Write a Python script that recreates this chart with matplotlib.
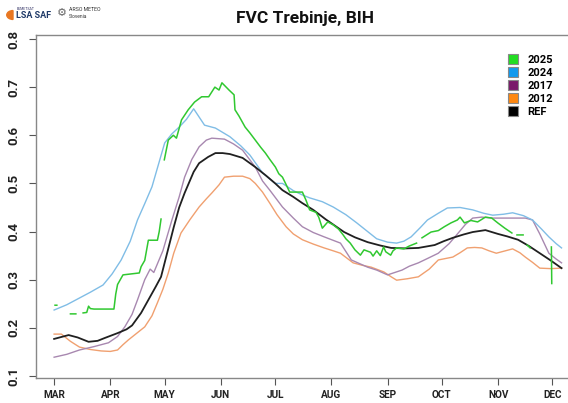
import numpy as np
import matplotlib
matplotlib.use("Agg")
import matplotlib.pyplot as plt
from matplotlib.lines import Line2D
from matplotlib.patches import Wedge

plt.rcParams['font.family'] = ['Roboto', 'DejaVu Sans']

nan = np.nan

# Month ticks (day of year) and labels
month_days = [60, 91, 121, 152, 182, 213, 244, 274, 305, 335]
month_labels = ['MAR', 'APR', 'MAY', 'JUN', 'JUL', 'AUG', 'SEP', 'OCT', 'NOV', 'DEC']

# Reference (long-term mean) FVC
ref_days = [60, 64, 68, 73, 79, 84, 88, 95, 100, 103, 108, 112, 116, 119, 122, 126, 129,
            132, 137, 140, 145, 149, 153, 157, 164, 171, 177, 182, 186, 192, 197, 203,
            210, 220, 226, 233, 240, 246, 254, 261, 270, 275, 280, 286, 291, 298, 305,
            310, 316, 322, 328, 334, 340]
ref_vals = [0.177, 0.181, 0.185, 0.180, 0.171, 0.173, 0.179, 0.189, 0.197, 0.205, 0.231,
            0.258, 0.285, 0.306, 0.350, 0.409, 0.450, 0.480, 0.524, 0.542, 0.555, 0.563,
            0.563, 0.561, 0.553, 0.534, 0.516, 0.500, 0.486, 0.472, 0.459, 0.445, 0.425,
            0.399, 0.388, 0.378, 0.371, 0.366, 0.365, 0.366, 0.372, 0.380, 0.387, 0.394,
            0.399, 0.403, 0.395, 0.390, 0.383, 0.370, 0.355, 0.340, 0.324]

# Season 2024
y2024_days = [60, 67, 74, 80, 87, 92, 97, 102, 106, 110, 114, 118, 121, 125, 129, 133,
              137, 140, 143, 149, 157, 163, 168, 175, 182, 186, 192, 197, 201, 208, 214,
              221, 227, 233, 238, 244, 249, 253, 257, 262, 266, 272, 277, 284, 291, 297,
              302, 308, 313, 319, 324, 329, 333, 337, 340]
y2024_vals = [0.237, 0.248, 0.262, 0.274, 0.289, 0.312, 0.341, 0.380, 0.424, 0.458, 0.493,
              0.545, 0.584, 0.603, 0.617, 0.633, 0.655, 0.638, 0.621, 0.615, 0.597, 0.578,
              0.559, 0.522, 0.500, 0.500, 0.485, 0.476, 0.470, 0.462, 0.451, 0.435, 0.418,
              0.400, 0.385, 0.378, 0.376, 0.380, 0.389, 0.408, 0.424, 0.438, 0.449, 0.450,
              0.445, 0.438, 0.434, 0.436, 0.439, 0.433, 0.424, 0.405, 0.389, 0.375, 0.366]

# Season 2017
y2017_days = [60, 67, 74, 82, 90, 95, 99, 103, 106, 110, 113, 115, 120, 125, 129, 132,
              136, 140, 144, 147, 154, 159, 164, 171, 175, 179, 186, 192, 197, 203, 209,
              218, 224, 233, 238, 244, 248, 252, 256, 261, 266, 272, 278, 283, 287, 291,
              296, 302, 310, 320, 324, 328, 333, 337, 340]
y2017_vals = [0.139, 0.145, 0.154, 0.161, 0.169, 0.182, 0.202, 0.228, 0.258, 0.300, 0.322,
              0.315, 0.360, 0.424, 0.472, 0.513, 0.550, 0.576, 0.590, 0.594, 0.592, 0.582,
              0.569, 0.534, 0.505, 0.486, 0.451, 0.428, 0.410, 0.398, 0.389, 0.376, 0.341,
              0.326, 0.320, 0.310, 0.315, 0.320, 0.328, 0.335, 0.344, 0.355, 0.375, 0.397,
              0.415, 0.428, 0.430, 0.428, 0.428, 0.428, 0.424, 0.395, 0.355, 0.343, 0.335]

# Season 2012
y2012_days = [60, 64, 69, 74, 80, 86, 91, 95, 98, 101, 106, 110, 114, 117, 120, 123,
              126, 130, 135, 140, 144, 147, 151, 154, 159, 164, 168, 171, 175, 179, 183,
              188, 192, 197, 203, 209, 214, 218, 225, 230, 235, 242, 246, 249, 255, 261,
              267, 272, 276, 280, 284, 288, 292, 296, 300, 304, 309, 313, 317, 320, 324,
              328, 334, 340]
y2012_vals = [0.187, 0.187, 0.172, 0.160, 0.155, 0.152, 0.151, 0.154, 0.165, 0.175, 0.190,
              0.202, 0.225, 0.252, 0.280, 0.314, 0.355, 0.397, 0.425, 0.451, 0.468, 0.480,
              0.497, 0.513, 0.515, 0.515, 0.510, 0.500, 0.482, 0.459, 0.435, 0.410, 0.395,
              0.383, 0.374, 0.366, 0.360, 0.355, 0.335, 0.330, 0.326, 0.316, 0.306, 0.299,
              0.302, 0.306, 0.322, 0.341, 0.344, 0.347, 0.356, 0.366, 0.367, 0.366, 0.360,
              0.355, 0.360, 0.364, 0.356, 0.347, 0.336, 0.324, 0.323, 0.324]

# Season 2025 (gaps marked with NaN)
y2025_days = [60.5, 61.5, nan,
              69, 72, nan,
              76, 78, 79, 80, 82, 93, 94, 95, 98, 107, 108, 110, 112, 117, 118, 119, nan,
              120.8, 123, 125.8, 127.5, 130.3, 134, 137.5, 141.4, 145.3, 148.7, 151, 152.6,
              156.5, 159.3, 159.8, 162, 165.4, 168, 171, 174, 176.6, 179, 182.1, 184, 186,
              187.7, 190, 197, 199, 201, 204.5, 206, 208, 211, 214, 217, 219.5, 221, 223.4,
              226, 229, 231, 234.6, 236, 238, 240, 241.8, 243, 245.7, 247, 249, 253, 256,
              260, nan,
              263, 268, 272, 275.3, 279, 282.5, 284, 286.4, 290, 293.7, 298, 301.5, 304.8,
              308.7, 312.6, nan,
              315.4, 318.8, nan,
              321, 322.7, nan,
              334.4, 334.6]
y2025_vals = [0.247, 0.247, nan,
              0.229, 0.229, nan,
              0.231, 0.232, 0.245, 0.240, 0.239, 0.239, 0.270, 0.290, 0.310, 0.314, 0.327,
              0.340, 0.382, 0.382, 0.400, 0.426, nan,
              0.549, 0.590, 0.600, 0.594, 0.632, 0.653, 0.669, 0.680, 0.680, 0.700, 0.694,
              0.709, 0.694, 0.684, 0.653, 0.640, 0.617, 0.605, 0.590, 0.575, 0.563, 0.550,
              0.534, 0.520, 0.513, 0.500, 0.482, 0.482, 0.465, 0.445, 0.440, 0.430, 0.407,
              0.420, 0.414, 0.405, 0.393, 0.385, 0.376, 0.362, 0.351, 0.362, 0.357, 0.349,
              0.360, 0.350, 0.368, 0.358, 0.351, 0.360, 0.366, 0.364, 0.370, 0.376, nan,
              0.387, 0.399, 0.402, 0.410, 0.418, 0.424, 0.430, 0.418, 0.423, 0.420, 0.430,
              0.428, 0.418, 0.407, 0.397, nan,
              0.393, 0.393, nan,
              0.372, 0.366, nan,
              0.368, 0.292]

W, H = 568, 403
fig = plt.figure(figsize=(W / 100, H / 100), dpi=100)
ax = fig.add_axes([36 / W, 1 - 378 / H, 1 - 36 / W + 0.01, (378 - 35) / H])

ax.plot(y2012_days, y2012_vals, color='#F0A070', lw=1.0)
ax.plot(y2017_days, y2017_vals, color='#A888B0', lw=1.0)
ax.plot(y2024_days, y2024_vals, color='#80BDE6', lw=1.0)
ax.plot(ref_days, ref_vals, color='#202020', lw=1.3)
ax.plot(y2025_days, y2025_vals, color='#30C830', lw=1.1)

ax.set_xlim(50, 346.7)
ax.set_ylim(0.0958, 0.8083)
ax.set_xticks(month_days)
ax.set_xticklabels(month_labels, fontsize=7.2, fontweight='bold', color='#222222')
ax.set_yticks([0.1, 0.2, 0.3, 0.4, 0.5, 0.6, 0.7, 0.8])
ax.set_yticklabels(['0.1', '0.2', '0.3', '0.4', '0.5', '0.6', '0.7', '0.8'],
                   fontsize=9.5, fontweight='bold', color='#222222',
                   rotation=90, va='center')
ax.tick_params(axis='both', length=5, width=0.8, color='#555555')
ax.tick_params(axis='x', pad=3.5)
ax.tick_params(axis='y', pad=6)
for side in ['left', 'bottom', 'top']:
    ax.spines[side].set_color('#888888')
    ax.spines[side].set_linewidth(1.0)
ax.spines['right'].set_visible(False)

handles = [
    Line2D([], [], ls='none', marker='s', markersize=7, markerfacecolor=c,
           markeredgecolor='#888888', markeredgewidth=0.8)
    for c in ['#22DD22', '#1199EE', '#7A1A6A', '#FF8811', '#000000']
]
leg = ax.legend(handles, ['2025', '2024', '2017', '2012', 'REF'],
                loc='upper left', bbox_to_anchor=(0.868, 0.955),
                frameon=False, prop={'weight': 'bold', 'size': 8},
                handlelength=1.0, handletextpad=0.8, labelspacing=0.28,
                borderaxespad=0)

fig.text(305 / W, 1 - 18 / H, 'FVC Trebinje, BIH', ha='center', va='center',
         fontsize=12.5, fontweight='bold', color='#111111')

# Header logos
fig.patches.append(Wedge((13 / W, 1 - 15 / H), 0.011, 90, 270,
                         transform=fig.transFigure, color='#E87722'))
fig.text(17 / W, 1 - 9 / H, 'EUMETSAT', fontsize=2.5, color='#333366', va='center')
fig.text(16 / W, 1 - 15.5 / H, 'LSA SAF', fontsize=6.5, fontweight='bold',
         color='#1F3A68', va='center')
fig.text(57 / W, 1 - 13 / H, '\u2699', fontsize=8, color='#666666', va='center',
         family='DejaVu Sans')
fig.text(69 / W, 1 - 9.5 / H, 'ARSO METEO', fontsize=3.8, color='#333333', va='center')
fig.text(69 / W, 1 - 16 / H, 'Slovenia', fontsize=3.5, color='#333333', va='center')

fig.savefig('out.png', dpi=100)
